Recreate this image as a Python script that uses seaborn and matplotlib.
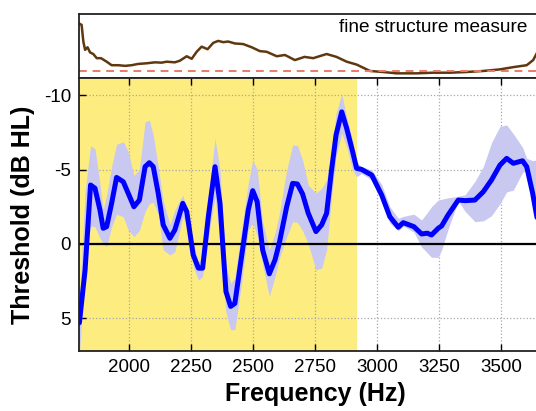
import numpy as np
import matplotlib
matplotlib.use('Agg')
import matplotlib.pyplot as plt
import seaborn as sns

# main threshold curve (Hz, dB HL)
freq = [1800, 1823, 1845, 1863, 1883, 1896, 1910, 1930, 1950, 1977, 1997, 2020, 2042,
        2065, 2082, 2098, 2118, 2138, 2165, 2185, 2217, 2233, 2259, 2280, 2297, 2320,
        2347, 2367, 2391, 2410, 2427, 2454, 2481, 2499, 2517, 2539, 2566, 2589, 2606,
        2636, 2660, 2679, 2700, 2723, 2754, 2777, 2797, 2817, 2835, 2858, 2878, 2902,
        2918, 2938, 2979, 3019, 3052, 3086, 3106, 3149, 3180, 3203, 3220, 3247, 3261,
        3287, 3328, 3355, 3395, 3429, 3462, 3496, 3523, 3550, 3587, 3604, 3628, 3641, 3660]
threshold = [5.3, 1.75, -3.96, -3.74, -2.28, -1.05, -1.16, -2.73, -4.47, -4.18, -3.40, -2.5, -2.95,
             -5.19, -5.46, -5.19, -3.40, -1.28, -0.38, -0.94, -2.73, -2.17, 0.74, 1.63, 1.63, -1.83,
             -5.19, -2.73, 3.2, 4.2, 4.0, 0.85, -2.28, -3.58, -2.84, 0.40, 2.01, 1.07, -0.04,
             -2.5, -4.07, -4.03, -3.36, -2.06, -0.83, -1.28, -2.06, -4.97, -7.32, -8.88, -7.77, -6.2,
             -5.08, -5.01, -4.63, -3.29, -1.83, -1.12, -1.43, -1.16, -0.67, -0.72, -0.60, -1.05, -1.21,
             -1.95, -2.95, -2.91, -2.95, -3.51, -4.30, -5.30, -5.75, -5.42, -5.59, -5.19, -3.40, -2.17, -0.5]
band_top = [4.0, -3.5, -6.6, -6.4, -4.0, -2.3, -3.3, -5.2, -6.7, -6.87, -6.2, -4.6, -5.0,
            -8.2, -8.32, -7.3, -5.2, -2.9, -1.3, -2.28, -3.29, -2.4, -0.05, 1.19, 0.85, -3.17,
            -7.09, -5.0, 1.5, 2.64, 2.3, -0.94, -4.07, -5.64, -5.0, -1.5, 0.40, -0.72, -2.0,
            -4.97, -6.64, -6.64, -5.64, -3.96, -3.40, -3.74, -4.30, -6.09, -8.77, -10.07, -8.54, -6.9,
            -5.5, -5.19, -4.97, -4.0, -2.5, -1.72, -1.85, -2.0, -1.61, -2.1, -2.5, -2.95, -3.0,
            -3.1, -3.2, -3.3, -4.2, -5.2, -6.8, -7.9, -8.0, -7.4, -6.5, -5.75, -5.6, -5.64, -4.0]
band_bot = [7.5, 1.5, -1.2, -1.16, -0.4, 0.0, 0.18, -1.16, -2.0, -1.83, -0.94, -0.5, -0.9,
            -2.2, -2.7, -2.8, -2.0, 0.4, 0.74, 0.52, -1.83, -1.3, 1.52, 2.42, 2.19, -0.49,
            -3.17, -0.27, 4.6, 5.77, 5.77, 2.64, -0.94, -1.39, -0.6, 1.4, 3.53, 2.19, 1.0,
            -0.49, -1.5, -1.45, -0.9, 0.0, 1.74, 1.63, 0.40, -3.17, -5.86, -7.43, -6.53, -4.97,
            -4.52, -4.74, -4.30, -2.9, -1.4, -0.9, -1.2, -0.8, 0.2, 0.6, 0.9, 0.9, 0.40,
            -1.0, -2.9, -2.2, -1.5, -1.55, -1.9, -2.7, -3.5, -3.62, -4.8, -4.97, -3.0, -2.06, 0.0]

# fine structure measure (arbitrary units)
fs_freq = [1800, 1809, 1816, 1823, 1833, 1843, 1856, 1870, 1887, 1910, 1930, 1957, 1984,
           2011, 2037, 2071, 2105, 2132, 2152, 2185, 2205, 2233, 2253, 2273, 2293, 2317,
           2340, 2360, 2380, 2400, 2427, 2461, 2495, 2528, 2555, 2596, 2629, 2669, 2708,
           2743, 2797, 2837, 2878, 2918, 2972, 3025, 3079, 3160, 3227, 3294, 3362, 3429,
           3496, 3550, 3604, 3630, 3641, 3660]
fs_value = [0.85, 0.83, 0.57, 0.44, 0.48, 0.40, 0.375, 0.31, 0.31, 0.255, 0.20, 0.20, 0.19,
            0.20, 0.22, 0.23, 0.245, 0.24, 0.255, 0.245, 0.27, 0.34, 0.30, 0.41, 0.49, 0.45,
            0.55, 0.58, 0.56, 0.57, 0.54, 0.53, 0.48, 0.42, 0.41, 0.34, 0.36, 0.28, 0.33,
            0.31, 0.375, 0.33, 0.255, 0.21, 0.11, 0.094, 0.073, 0.073, 0.083, 0.083, 0.094, 0.11,
            0.135, 0.17, 0.20, 0.28, 0.36, 0.5]
fs_criterion = 0.11
region_end = 2920
xticks = [2000, 2250, 2500, 2750, 3000, 3250, 3500]
yticks = [-10, -5, 0, 5]

sns.set_style('ticks')
plt.rcParams['font.family'] = ['Liberation Sans', 'DejaVu Sans']
plt.rcParams['axes.unicode_minus'] = False
plt.rcParams['text.color'] = 'black'
plt.rcParams['axes.labelcolor'] = 'black'
plt.rcParams['xtick.color'] = 'black'
plt.rcParams['ytick.color'] = 'black'

fig = plt.figure(figsize=(5.36, 4.11), dpi=100)
ax_top = fig.add_axes([0.1481, 0.8102, 0.879, 0.1557])
ax = fig.add_axes([0.1481, 0.146, 0.879, 0.664])

# top panel
sns.lineplot(x=fs_freq, y=fs_value, ax=ax_top, color='#603810', linewidth=1.8)
ax_top.axhline(fs_criterion, color='#ec7a68', linestyle=(0, (4, 3)), linewidth=1.4)
ax_top.set_xlim(1800, 3700)
ax_top.set_ylim(0, 1)
ax_top.set_xticks([])
ax_top.set_yticks([])
for s in ax_top.spines.values():
    s.set_visible(True)
    s.set_linewidth(1.3)
    s.set_color('#222222')
fig.text(527 / 536, 1 - 28 / 411, 'fine structure measure', ha='right', va='center', fontsize=13.7)

# main panel
ax.axvspan(1800, region_end, color='#fdec80', zorder=0, lw=0)
ax.fill_between(freq, band_top, band_bot, color='#c8c8f0', lw=0, zorder=1)
ax.axhline(0, color='black', linewidth=1.6, zorder=1.5)
sns.lineplot(x=freq, y=threshold, ax=ax, color='#0000ff', linewidth=3.6, zorder=3)

ax.set_xlim(1800, 3700)
ax.set_ylim(7.2, -11.15)
ax.set_xticks(xticks)
ax.set_yticks(yticks)
ax.set_axisbelow(True)
ax.grid(True, linestyle=':', color='#a8a8a8', linewidth=0.9)
ax.tick_params(direction='in', top=True, bottom=True, left=True, right=False,
               length=5, width=1, labelsize=13.5, pad=6)
for s in ax.spines.values():
    s.set_visible(True)
    s.set_linewidth(1.3)
    s.set_color('#222222')
ax.set_xlabel('Frequency (Hz)', fontsize=18, fontweight='bold', labelpad=4)
ax.set_ylabel('Threshold (dB HL)', fontsize=18, fontweight='bold', labelpad=6)

fig.savefig('out.png', dpi=100)
